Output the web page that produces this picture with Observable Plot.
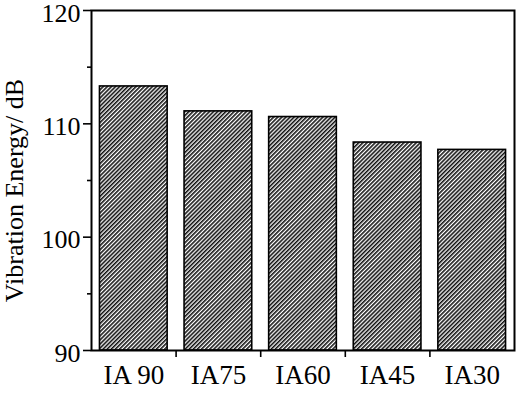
<!DOCTYPE html>
<html>
<head>
<meta charset="utf-8">
<script src="https://cdn.jsdelivr.net/npm/d3@7"></script>
<script src="https://cdn.jsdelivr.net/npm/@observablehq/plot@0.6"></script>
<style>
  html, body { margin: 0; padding: 0; background: #fff; }
</style>
</head>
<body>
<div id="chart"></div>
<script>
const categories = ["IA 90", "IA75", "IA60", "IA45", "IA30"];
const values = [113.3, 111.1, 110.6, 108.35, 107.7];
const yMajorTicks = [90, 100, 110, 120];
const yMinorTicks = [95, 105, 115];
const yLabel = "Vibration Energy/ dB";

const data = categories.map((c, i) => ({i, category: c, value: values[i]}));
const half = 0.4;

const plot = Plot.plot({
  width: 519,
  height: 393,
  marginLeft: 91,
  marginRight: 5,
  marginTop: 10,
  marginBottom: 43,
  style: {fontFamily: "'Liberation Serif', 'Times New Roman', serif", fontSize: "27px", background: "#fff", color: "#000"},
  x: {domain: [-0.5, categories.length - 0.5]},
  y: {domain: [90, 120]},
  marks: [
    Plot.rectY(data, {
      x1: d => d.i - half,
      x2: d => d.i + half,
      y1: 90,
      y2: "value",
      fill: "url(#hatch)",
      stroke: "#000",
      strokeWidth: 1.6
    }),
    Plot.frame({stroke: "#000", strokeWidth: 2}),
    Plot.axisY(yMajorTicks, {tickSize: 8, strokeWidth: 1.6, text: null, label: null}),
    Plot.axisY(yMajorTicks, {tickSize: 0, tickPadding: 11, fontSize: 26, dy: 3, label: null}),
    Plot.axisY(yMinorTicks, {tickSize: 4, strokeWidth: 1.6, text: null, label: null}),
    Plot.text([yLabel], {text: d => d, frameAnchor: "left", rotate: -90, dx: -77, dy: 10,
      fontSize: 26, lineAnchor: "middle", textAnchor: "middle", fill: "#000"}),
    Plot.axisX(categories.map((c, i) => i), {tickSize: 0, tickPadding: 14, fontSize: 27,
      tickFormat: i => categories[i], label: null}),
    Plot.axisX(categories.slice(1).map((c, i) => i + 0.5), {tickSize: 7, strokeWidth: 1.6, text: null, label: null})
  ]
});

const svg = d3.select(plot);
const defs = svg.insert("defs", ":first-child");
const pat = defs.append("pattern")
  .attr("id", "hatch")
  .attr("patternUnits", "userSpaceOnUse")
  .attr("width", 2.9)
  .attr("height", 2.9)
  .attr("patternTransform", "rotate(45)");
pat.append("rect").attr("width", 2.9).attr("height", 2.9).attr("fill", "#fff");
pat.append("line").attr("x1", 0.75).attr("y1", 0).attr("x2", 0.75).attr("y2", 2.9)
  .attr("stroke", "#111").attr("stroke-width", 1.7);

document.getElementById("chart").appendChild(plot);
</script>
</body>
</html>
